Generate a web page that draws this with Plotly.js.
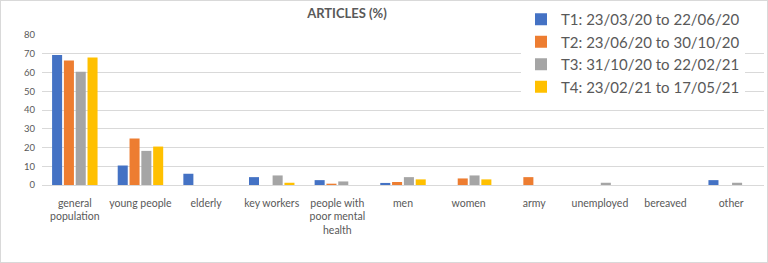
<!DOCTYPE html>
<html>
<head>
<meta charset="utf-8">
<script src="https://cdn.plot.ly/plotly-3.0.1.min.js"></script>
<style>
html,body{margin:0;padding:0;background:#fff;}
#chart{width:766px;height:261px;border:1px solid #d9d9d9;}
</style>
</head>
<body>
<div id="chart"></div>
<script>
const categories = ["general<br>population", "young people", "elderly", "key workers", "people with<br>poor mental<br>health", "men", "women", "army", "unemployed", "bereaved", "other"];
const seriesNames = ["T1: 23/03/20 to 22/06/20", "T2: 23/06/20 to 30/10/20", "T3: 31/10/20 to 22/02/21", "T4: 23/02/21 to 17/05/21"];
const t1 = [69.4, 10.4, 6.0, 4.2, 2.6, 1.1, 0, 0, 0, 0, 2.6];
const t2 = [66.4, 24.8, 0, 0, 0.7, 1.6, 3.5, 4.2, 0, 0, 0];
const t3 = [60.4, 18.2, 0, 5.1, 1.9, 4.2, 5.1, 0, 1.2, 0, 1.2];
const t4 = [68.0, 20.5, 0, 1.2, 0, 3.0, 3.0, 0, 0, 0, 0];
const colors = ["#4472C4", "#ED7D31", "#A5A5A5", "#FFC000"];
const yTicks = [0, 10, 20, 30, 40, 50, 60, 70, 80];

const series = [t1, t2, t3, t4];
const traces = series.map((vals, i) => ({
  type: "bar",
  name: seriesNames[i],
  x: categories,
  y: vals,
  marker: {color: colors[i]},
  hoverinfo: "x+y+name"
}));

const layout = {
  width: 766,
  height: 261,
  margin: {l: 41, r: 3, t: 33, b: 77},
  paper_bgcolor: "#ffffff",
  plot_bgcolor: "#ffffff",
  font: {family: "Lato, 'Open Sans', sans-serif", color: "#595959", size: 9},
  title: {
    text: "<b>ARTICLES (%)</b>",
    font: {size: 13, color: "#595959"},
    x: 346 / 766, xanchor: "center",
    y: 1 - 12 / 261, yanchor: "middle"
  },
  barmode: "group",
  bargap: 0.28,
  bargroupgap: 0.15,
  xaxis: {
    type: "category",
    showgrid: false,
    showline: true,
    linecolor: "#d9d9d9",
    linewidth: 1,
    ticks: "",
    ticklabelstandoff: 8,
    tickfont: {size: 10.5, color: "#595959"},
    tickangle: 0,
    automargin: false
  },
  yaxis: {
    range: [0, 80],
    tickvals: yTicks,
    ticktext: yTicks.map(String),
    showgrid: true,
    gridcolor: "#d9d9d9",
    gridwidth: 1,
    zeroline: true,
    zerolinecolor: "#d9d9d9",
    showline: false,
    ticks: "",
    ticklen: 0,
    ticklabelstandoff: 6,
    tickfont: {size: 9.5, color: "#595959"},
    automargin: false
  },
  showlegend: true,
  legend: {
    x: (520 - 41) / 722,
    xanchor: "left",
    y: 1 + 31 / 151,
    yanchor: "top",
    bgcolor: "#ffffff",
    font: {size: 15, color: "#595959"},
    tracegroupgap: 0,
    itemwidth: 30,
    traceorder: "normal"
  }
};

Plotly.newPlot("chart", traces, layout, {displayModeBar: false, staticPlot: true});
</script>
</body>
</html>
